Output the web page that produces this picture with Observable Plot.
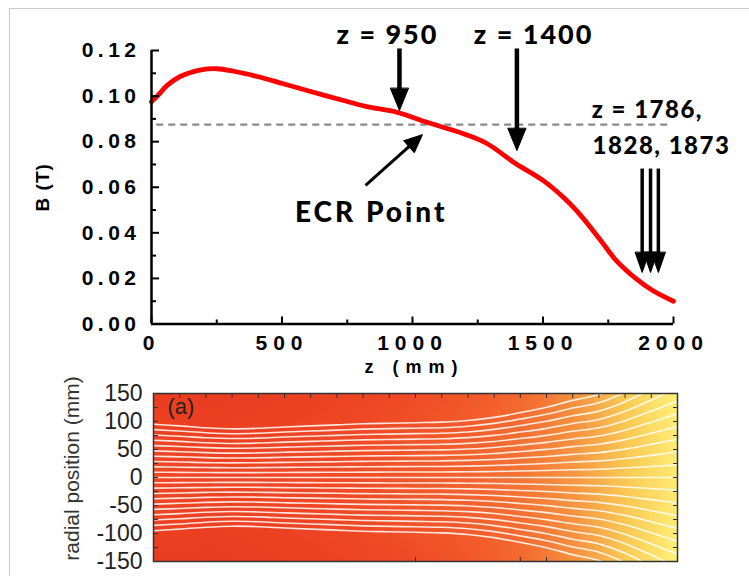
<!DOCTYPE html>
<html>
<head>
<meta charset="utf-8">
<script src="https://cdn.jsdelivr.net/npm/d3@7"></script>
<script src="https://cdn.jsdelivr.net/npm/@observablehq/plot@0.6"></script>
<style>
html,body{margin:0;padding:0;background:#fff;overflow:hidden;}
#wrap{position:relative;width:749px;height:576px;overflow:hidden;background:#fff;}
#border{position:absolute;left:9px;top:8px;width:800px;height:700px;border-left:1.5px solid #c9c9c9;border-top:1.5px solid #c9c9c9;}
#top,#bottom{position:absolute;left:0;}
#top{top:0;}
#bottom{top:360px;}
g[aria-description="tick-lab"] text{letter-spacing:4.5px;}
g[aria-description="xtick-lab"] text{letter-spacing:6px;}
g[aria-description="zlab"] text{letter-spacing:2px;}
g[aria-description="zlab2"] text{letter-spacing:1.5px;}
g[aria-description="ecr"] text{letter-spacing:3px;}
g[aria-description="xtitle"] text{letter-spacing:7px;}
g[aria-description="ytitle"] text{letter-spacing:1px;}
</style>
</head>
<body>
<div id="wrap"><div id="border"></div><div id="top"></div><div id="bottom"></div></div>
<script>
// ---- Top panel: on-axis magnetic field B(z) ----
const zMM = [0, 25, 60, 110, 190, 250, 315, 405, 505, 610, 725, 825, 940, 1055, 1195, 1285, 1395, 1500, 1585, 1650, 1730, 1780, 1855, 1920, 2000];
const bTesla = [0.0975, 0.1003, 0.1047, 0.1086, 0.1115, 0.1120, 0.1109, 0.1086, 0.1054, 0.1020, 0.0984, 0.0954, 0.0929, 0.0885, 0.0835, 0.0792, 0.0704, 0.0630, 0.0548, 0.0469, 0.0353, 0.0279, 0.0200, 0.0147, 0.0100];
const ecrLevel = 0.0875;

const yTicks = [0, 0.02, 0.04, 0.06, 0.08, 0.10, 0.12];
const yMinor = [0.01, 0.03, 0.05, 0.07, 0.09, 0.11];
const xTicks = [0, 500, 1000, 1500, 2000];
const xMinor = [250, 750, 1250, 1750];

// annotation arrows (vertical)
const bigArrowZ = [950, 1400];
const bigArrowTop = [0.1209, 0.1209];
const bigArrowBase = [0.1016, 0.0831];
const bigArrowTip = [0.0937, 0.0761];
const smallArrowZ = [1880, 1912, 1942];
const smallArrowTop = [0.0682, 0.0682, 0.0682];
const smallArrowBase = [0.0305, 0.0305, 0.0305];
const smallArrowTip = [0.0226, 0.0226, 0.0226];
// ECR arrow (tail -> tip)
const ecrArrow = {z1: 820, b1: 0.0608, z2: 996, b2: 0.0788, zt: 1038, bt: 0.0831};

const zLabels = ["z = 950", "z = 1400"];
const zLabelZ = [904, 1464];
const zLabelB = [0.1266, 0.1266];
const multiLabels = ["z = 1786,", "1828, 1873"];
const multiLabelZ = [1900, 1954];
const multiLabelB = [0.0937, 0.0779];
const ecrLabel = {text: "ECR Point", z: 842, b: 0.0485};

// ---- Bottom panel: field map + field lines ----
const heatZ = [0, 200, 400, 600, 800, 1000, 1200, 1400, 1600, 1800, 2000];
const heatAbsR = [0, 50, 100, 150];
const heatField = [
  [0.100, 0.106, 0.104, 0.100, 0.096, 0.089, 0.082, 0.072, 0.055, 0.031, 0.013],
  [0.103, 0.108, 0.105, 0.101, 0.097, 0.090, 0.083, 0.073, 0.056, 0.032, 0.013],
  [0.110, 0.113, 0.110, 0.106, 0.100, 0.094, 0.087, 0.077, 0.058, 0.031, 0.012],
  [0.117, 0.117, 0.114, 0.110, 0.104, 0.098, 0.090, 0.079, 0.058, 0.029, 0.010]
];
const colorStops = [0.010, 0.030, 0.050, 0.070, 0.085, 0.100, 0.120];
const colorRange = ["#fff27a", "#facb55", "#f7a045", "#f47836", "#f25e2c", "#ef4825", "#e9391e"];

const lineStart = [-95, -85.5, -76, -66.5, -57, -47.5, -38, -28.5, -19, -9.5, 0, 9.5, 19, 28.5, 38, 47.5, 57, 66.5, 76, 85.5, 95];
const spreadZ = [0, 100, 200, 300, 400, 500, 600, 700, 800, 900, 1000, 1100, 1200, 1300, 1400, 1500, 1600, 1700, 1800, 1900, 2000];
const spread = [1.00, 0.97, 0.935, 0.915, 0.925, 0.95, 0.97, 0.99, 1.01, 1.02, 1.03, 1.04, 1.07, 1.13, 1.22, 1.32, 1.45, 1.56, 1.78, 2.08, 2.40];

const rTicks = [150, 100, 50, 0, -50, -100, -150];
const rMinor = [150, 125, 100, 75, 50, 25, 0, -25, -50, -75, -100, -125, -150];
const zTopTicks = [100, 200, 300, 400, 500, 600, 700, 800, 900, 1000, 1100, 1200, 1300, 1400, 1500, 1600, 1700, 1800, 1900];
const zBottomTicks = [1000, 1400, 1500];

// ---- derived tables ----
const curve = zMM.map((z, i) => ({z, b: bTesla[i]}));
const bigArrows = bigArrowZ.map((z, i) => ({z, top: bigArrowTop[i], base: bigArrowBase[i], tip: bigArrowTip[i]}));
const smallArrows = smallArrowZ.map((z, i) => ({z, top: smallArrowTop[i], base: smallArrowBase[i], tip: smallArrowTip[i]}));
const zLab = zLabels.map((t, i) => ({t, z: zLabelZ[i], b: zLabelB[i]}));
const multiLab = multiLabels.map((t, i) => ({t, z: multiLabelZ[i], b: multiLabelB[i]}));

const headShape = {
  draw(ctx, l, r) { ctx.moveTo(-r, 0); ctx.lineTo(0, -l); ctx.lineTo(r, 0); ctx.closePath(); }
};

const annFont = "Lato, 'Open Sans', sans-serif";
const baseStyle = {fontFamily: "'Liberation Sans', Arial, sans-serif", background: "none", overflow: "visible", color: "black"};

const topPlot = Plot.plot({
  width: 749, height: 370,
  marginLeft: 151, marginRight: 76, marginTop: 50, marginBottom: 46.5,
  x: {domain: [0, 2000], label: null},
  y: {domain: [0, 0.12], label: null},
  style: baseStyle,
  marks: [
    Plot.ruleY([ecrLevel], {x1: 20, x2: 1990, stroke: "#8a8a8a", strokeWidth: 2.2, strokeDasharray: "7,5"}),
    Plot.line(curve, {x: "z", y: "b", stroke: "#ff0000", strokeWidth: 4.8, curve: "catmull-rom", strokeLinecap: "round"}),
    Plot.axisY({ticks: yTicks, tickSize: -8, fill: "none", strokeWidth: 2, label: null}),
    Plot.axisY({ticks: yMinor, tickSize: -5, fill: "none", strokeWidth: 2, label: null}),
    Plot.axisY({ticks: yTicks, tickSize: 0, tickPadding: 11, tickFormat: d3.format(".2f"), fontSize: 21, fontWeight: "bold", label: null, ariaDescription: "tick-lab"}),
    Plot.axisX({ticks: xTicks, tickSize: -7, fill: "none", strokeWidth: 2, label: null}),
    Plot.axisX({ticks: xMinor, tickSize: -4, fill: "none", strokeWidth: 2, label: null}),
    Plot.axisX({ticks: xTicks, tickSize: 0, tickPadding: 11, tickFormat: d => String(d), fontSize: 21, fontWeight: "bold", label: null, ariaDescription: "xtick-lab"}),
    Plot.ruleX([0], {strokeWidth: 2.5}),
    Plot.ruleY([0], {strokeWidth: 2.5}),
    Plot.text(["B (T)"], {frameAnchor: "left", dx: -109, textAnchor: "middle", rotate: -90, fontSize: 19, fontWeight: "bold", ariaDescription: "ytitle"}),
    Plot.text(["z (mm)"], {frameAnchor: "bottom", dy: 49, dx: 2, fontSize: 18, fontWeight: "bold", ariaDescription: "xtitle"}),
    // arrows
    Plot.link(bigArrows, {x1: "z", x2: "z", y1: "top", y2: "base", stroke: "black", strokeWidth: 4.5}),
    Plot.vector(bigArrows, {x: "z", y: "tip", length: 22, r: 9, rotate: 180, anchor: "end", shape: headShape, fill: "black", stroke: "black", strokeWidth: 1}),
    Plot.link(smallArrows, {x1: "z", x2: "z", y1: "top", y2: "base", stroke: "black", strokeWidth: 3.5}),
    Plot.vector(smallArrows, {x: "z", y: "tip", length: 20, r: 7, rotate: 180, anchor: "end", shape: headShape, fill: "black", stroke: "black", strokeWidth: 1}),
    Plot.link([ecrArrow], {x1: "z1", y1: "b1", x2: "z2", y2: "b2", stroke: "black", strokeWidth: 3}),
    Plot.vector([ecrArrow], {x: "zt", y: "bt", length: 18, r: 8, rotate: 48, anchor: "end", shape: headShape, fill: "black", stroke: "black", strokeWidth: 1}),
    // labels
    Plot.text(zLab, {x: "z", y: "b", text: "t", fontFamily: annFont, fontWeight: 900, fontSize: 27, ariaDescription: "zlab"}),
    Plot.text(multiLab, {x: "z", y: "b", text: "t", fontFamily: annFont, fontWeight: 900, fontSize: 24, ariaDescription: "zlab2"}),
    Plot.text([ecrLabel], {x: "z", y: "b", text: "text", fontFamily: annFont, fontWeight: 900, fontSize: 28, ariaDescription: "ecr"})
  ]
});
document.getElementById("top").appendChild(topPlot);

const heatR = [-150, -100, -50, 0, 50, 100, 150];
const heatSamples = heatR.flatMap(r => heatZ.map((z, j) => ({z, r, v: heatField[heatAbsR.indexOf(Math.abs(r))][j]})));
const fieldLines = lineStart.flatMap((r0, id) => spreadZ.map((z, j) => ({id, z, r: r0 * spread[j]})));

const bottomPlot = Plot.plot({
  width: 749, height: 216,
  marginLeft: 153, marginRight: 72, marginTop: 33, marginBottom: 15,
  x: {domain: [0, 2000], label: null},
  y: {domain: [-150, 150], label: null},
  color: {type: "linear", domain: colorStops, range: colorRange},
  style: baseStyle,
  marks: [
    Plot.raster(heatSamples, {x: "z", y: "r", fill: "v", interpolate: "barycentric", x1: 0, x2: 2000, y1: -150, y2: 150}),
    Plot.line(fieldLines, {x: "z", y: "r", z: "id", stroke: "white", strokeWidth: 1.6, strokeOpacity: 0.85, curve: "catmull-rom", clip: true}),
    Plot.frame({stroke: "#333", strokeWidth: 1.5}),
    Plot.axisY({anchor: "left", ticks: rMinor, tickSize: -5, fill: "none", stroke: "#333", label: null}),
    Plot.axisY({anchor: "right", ticks: rMinor, tickSize: -5, fill: "none", stroke: "#333", label: null}),
    Plot.axisX({anchor: "top", ticks: zTopTicks, tickSize: -4, fill: "none", stroke: "#333", label: null}),
    Plot.axisX({anchor: "bottom", ticks: zBottomTicks, tickSize: -4, fill: "none", stroke: "#333", label: null}),
    Plot.axisY({anchor: "left", ticks: rTicks, tickSize: 0, tickPadding: 11, tickFormat: d => String(d), fontSize: 23, fill: "#222", label: null}),
    Plot.text(["(a)"], {frameAnchor: "top-left", dx: 14, dy: 5, textAnchor: "start", lineAnchor: "top", fontSize: 22, fill: "#222"}),
    Plot.text(["radial position (mm)"], {frameAnchor: "left", dx: -81, dy: -9, textAnchor: "middle", rotate: -90, fontSize: 21, fill: "#333"})
  ]
});
document.getElementById("bottom").appendChild(bottomPlot);
</script>
</body>
</html>
